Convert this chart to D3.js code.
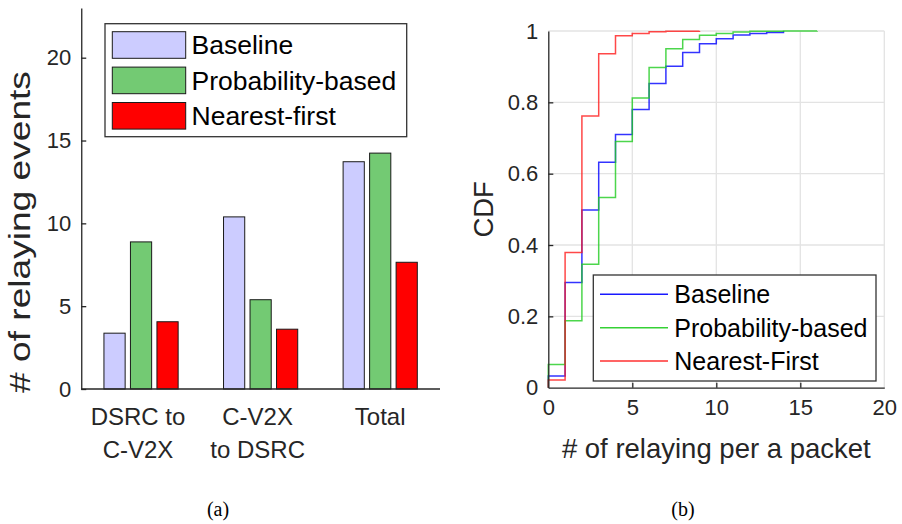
<!DOCTYPE html>
<html>
<head>
<meta charset="utf-8">
<script src="https://cdn.jsdelivr.net/npm/d3@7"></script>
<style>
  body { margin: 0; background: #fff; }
  svg { font-family: Arial, "Liberation Sans", Helvetica, sans-serif; }
</style>
</head>
<body>
<div id="fig"></div>
<script>
// (a) relaying events per scheme
var categories = [["DSRC to", "C-V2X"], ["C-V2X", "to DSRC"], ["Total"]];
var schemes = ["Baseline", "Probability-based", "Nearest-first"];
var baselineEvents = [3.37, 10.39, 13.72];
var probabilityEvents = [8.88, 5.39, 14.24];
var nearestEvents = [4.06, 3.61, 7.65];
var barTicks = [0, 5, 10, 15, 20];

// (b) CDF of relaying count per packet, value at each count 0,1,2,...
var baselineCdf = [0.033, 0.295, 0.498, 0.632, 0.710, 0.780, 0.853, 0.901, 0.940, 0.964, 0.978, 0.989, 0.993, 0.996];
var probabilityCdf = [0.065, 0.188, 0.346, 0.533, 0.690, 0.812, 0.898, 0.950, 0.976, 0.988, 0.993, 0.997, 0.999, 0.9995, 0.9997, 0.9998];
var nearestCdf = [0.0215, 0.379, 0.762, 0.936, 0.987, 0.993, 0.998, 0.999, 0.9995];
var cdfNames = ["Baseline", "Probability-based", "Nearest-First"];
var cdfXTicks = [0, 5, 10, 15, 20];
var cdfYTicks = [0, 0.2, 0.4, 0.6, 0.8, 1];

var axisColor = "#262626";
var svg = d3.select("#fig").append("svg")
    .attr("width", 902)
    .attr("height", 524);

// ---------- left: grouped bars ----------
var x0 = d3.scaleBand()
    .domain(d3.range(categories.length))
    .range([81.25, 440]);
var x1 = d3.scaleBand()
    .domain(schemes)
    .range([-39.75, 39.75])
    .paddingInner(0.2)
    .paddingOuter(0.1);
var yBar = d3.scaleLinear().domain([0, 23]).range([389, 8]);
var barColor = d3.scaleOrdinal()
    .domain(schemes)
    .range(["#ccccff", "#73ca73", "#ff0000"]);

var barRows = categories.map(function(c, i) {
    return [baselineEvents[i], probabilityEvents[i], nearestEvents[i]].map(function(v, j) {
        return {cat: i, scheme: schemes[j], value: v};
    });
});

var left = svg.append("g");

left.selectAll("g.grp")
    .data(barRows)
    .enter()
    .append("g")
    .attr("class", "grp")
    .attr("transform", function(d, i) {
        return "translate(" + (x0(i) + x0.bandwidth() / 2) + ",0)";
    })
    .selectAll("rect")
    .data(function(d) { return d; })
    .enter()
    .append("rect")
    .attr("x", function(d) { return x1(d.scheme); })
    .attr("width", x1.bandwidth())
    .attr("y", function(d) { return yBar(d.value); })
    .attr("height", function(d) { return yBar(0) - yBar(d.value); })
    .attr("fill", function(d) { return barColor(d.scheme); })
    .attr("stroke", "#1a1a1a")
    .attr("stroke-width", 1);

var yAxisL = left.append("g")
    .attr("transform", "translate(81.25,0)")
    .call(d3.axisLeft(yBar).tickValues(barTicks).tickSizeInner(-5).tickSizeOuter(0).tickPadding(10));
yAxisL.select(".domain").attr("stroke", axisColor).attr("stroke-width", 1.3);
yAxisL.selectAll(".tick line").attr("stroke", axisColor).attr("stroke-width", 1.3);
yAxisL.selectAll(".tick text")
    .attr("font-size", 22)
    .attr("font-family", "Arial, 'Liberation Sans', sans-serif")
    .attr("fill", axisColor);

left.append("line")
    .attr("x1", 81.25).attr("x2", 440)
    .attr("y1", yBar(0)).attr("y2", yBar(0))
    .attr("stroke", axisColor)
    .attr("stroke-width", 1.3);

var catText = left.selectAll("text.cat")
    .data(categories)
    .enter()
    .append("text")
    .attr("class", "cat")
    .attr("text-anchor", "middle")
    .attr("font-size", 24)
    .attr("fill", axisColor);
catText.selectAll("tspan")
    .data(function(d, i) { return d.map(function(s) { return {s: s, i: i}; }); })
    .enter()
    .append("tspan")
    .attr("x", function(d) { return x0(d.i) + x0.bandwidth() / 2 - (d.i < 2 ? 3 : 0); })
    .attr("y", function(d, k) { return 425 + k * 33; })
    .text(function(d) { return d.s; });

// y label is drawn stretched along its baseline, like the source figure
left.append("text")
    .attr("transform", "translate(29.5,232) rotate(-90) scale(1.28,1)")
    .attr("text-anchor", "middle")
    .attr("font-size", 29)
    .attr("fill", axisColor)
    .text("# of relaying events");

// legend (a)
left.append("rect")
    .attr("x", 105).attr("y", 23.7)
    .attr("width", 301.7).attr("height", 113)
    .attr("fill", "#fff")
    .attr("stroke", "#333")
    .attr("stroke-width", 1.3);
var legA = left.selectAll("g.legA")
    .data(schemes)
    .enter()
    .append("g")
    .attr("class", "legA")
    .attr("transform", function(d, i) { return "translate(0," + (45 + i * 35.4) + ")"; });
legA.append("rect")
    .attr("x", 112.3).attr("y", -13.3)
    .attr("width", 73.4).attr("height", 26.6)
    .attr("fill", function(d) { return barColor(d); })
    .attr("stroke", "#1a1a1a")
    .attr("stroke-width", 1);
legA.append("text")
    .attr("x", 191.5)
    .attr("y", 9.4)
    .attr("font-size", 26.5)
    .attr("fill", "#000")
    .text(function(d) { return d; });

// ---------- right: CDF steps ----------
var xCdf = d3.scaleLinear().domain([0, 20]).range([548.3, 884.3]);
var yCdf = d3.scaleLinear().domain([0, 1]).range([387.7, 31]);
var lineColor = d3.scaleOrdinal()
    .domain(cdfNames)
    .range(["#0000ff", "#1fcc1f", "#ff1a1a"]);

var right = svg.append("g");

// grid
right.selectAll("line.gx")
    .data(cdfXTicks.slice(1))
    .enter()
    .append("line")
    .attr("x1", function(d) { return xCdf(d); })
    .attr("x2", function(d) { return xCdf(d); })
    .attr("y1", yCdf(0)).attr("y2", yCdf(1))
    .attr("stroke", "#e3e3e3")
    .attr("stroke-width", 1.3);
right.selectAll("line.gy")
    .data(cdfYTicks.slice(1))
    .enter()
    .append("line")
    .attr("y1", function(d) { return yCdf(d); })
    .attr("y2", function(d) { return yCdf(d); })
    .attr("x1", xCdf(0)).attr("x2", xCdf(20))
    .attr("stroke", "#e3e3e3")
    .attr("stroke-width", 1.3);

var stepLine = d3.line()
    .x(function(d) { return xCdf(d[0]); })
    .y(function(d) { return yCdf(d[1]); })
    .curve(d3.curveStepAfter);

var cdfSeries = [baselineCdf, probabilityCdf, nearestCdf].map(function(vals, i) {
    var pts = [[0, 0]];
    vals.forEach(function(v, k) { pts.push([k, v]); });
    pts.push([vals.length, 1]);
    return {name: cdfNames[i], pts: pts};
});

right.selectAll("path.cdf")
    .data(cdfSeries)
    .enter()
    .append("path")
    .attr("class", "cdf")
    .attr("d", function(d) { return stepLine(d.pts); })
    .attr("fill", "none")
    .attr("stroke", function(d) { return lineColor(d.name); })
    .attr("stroke-opacity", 0.8)
    .attr("stroke-width", 1.5);

var xAxisR = right.append("g")
    .attr("transform", "translate(0," + yCdf(0) + ")")
    .call(d3.axisBottom(xCdf).tickValues(cdfXTicks).tickSizeInner(-5).tickSizeOuter(0).tickPadding(12));
var yAxisR = right.append("g")
    .attr("transform", "translate(" + xCdf(0) + ",0)")
    .call(d3.axisLeft(yCdf).tickValues(cdfYTicks).tickFormat(d3.format("")).tickSizeInner(-5).tickSizeOuter(0).tickPadding(10));
[xAxisR, yAxisR].forEach(function(ax) {
    ax.select(".domain").attr("stroke", axisColor).attr("stroke-width", 1.3);
    ax.selectAll(".tick line").attr("stroke", axisColor).attr("stroke-width", 1.3);
    ax.selectAll(".tick text")
        .attr("font-size", 22)
        .attr("font-family", "Arial, 'Liberation Sans', sans-serif")
        .attr("fill", axisColor);
});
xAxisR.selectAll(".tick").filter(function(d) { return d === 0 || d === 20; }).select("line").remove();
yAxisR.selectAll(".tick").filter(function(d) { return d === 0 || d === 1; }).select("line").remove();

right.append("text")
    .attr("x", (xCdf(0) + xCdf(20)) / 2)
    .attr("y", 458)
    .attr("text-anchor", "middle")
    .attr("font-size", 27.5)
    .attr("fill", axisColor)
    .text("# of relaying per a packet");

right.append("text")
    .attr("transform", "translate(493," + (yCdf(0.5)) + ") rotate(-90)")
    .attr("text-anchor", "middle")
    .attr("font-size", 27.5)
    .attr("fill", axisColor)
    .text("CDF");

// legend (b)
right.append("rect")
    .attr("x", 593.3).attr("y", 275)
    .attr("width", 282.7).attr("height", 106)
    .attr("fill", "#fff")
    .attr("stroke", "#333")
    .attr("stroke-width", 1.3);
var legB = right.selectAll("g.legB")
    .data(cdfNames)
    .enter()
    .append("g")
    .attr("class", "legB")
    .attr("transform", function(d, i) { return "translate(0," + (294.3 + i * 33.4) + ")"; });
legB.append("line")
    .attr("x1", 600).attr("x2", 668)
    .attr("y1", 0).attr("y2", 0)
    .attr("stroke", function(d) { return lineColor(d); })
    .attr("stroke-opacity", 0.9)
    .attr("stroke-width", 1.5);
legB.append("text")
    .attr("x", 674.3)
    .attr("y", 9)
    .attr("font-size", 25)
    .attr("fill", "#000")
    .text(function(d) { return d; });

// captions
svg.selectAll("text.cap")
    .data([["(a)", 218], ["(b)", 683]])
    .enter()
    .append("text")
    .attr("class", "cap")
    .attr("x", function(d) { return d[1]; })
    .attr("y", 516)
    .attr("text-anchor", "middle")
    .attr("font-family", "'Liberation Serif', 'Times New Roman', serif")
    .attr("font-size", 20)
    .attr("fill", "#000")
    .text(function(d) { return d[0]; });
</script>
</body>
</html>
